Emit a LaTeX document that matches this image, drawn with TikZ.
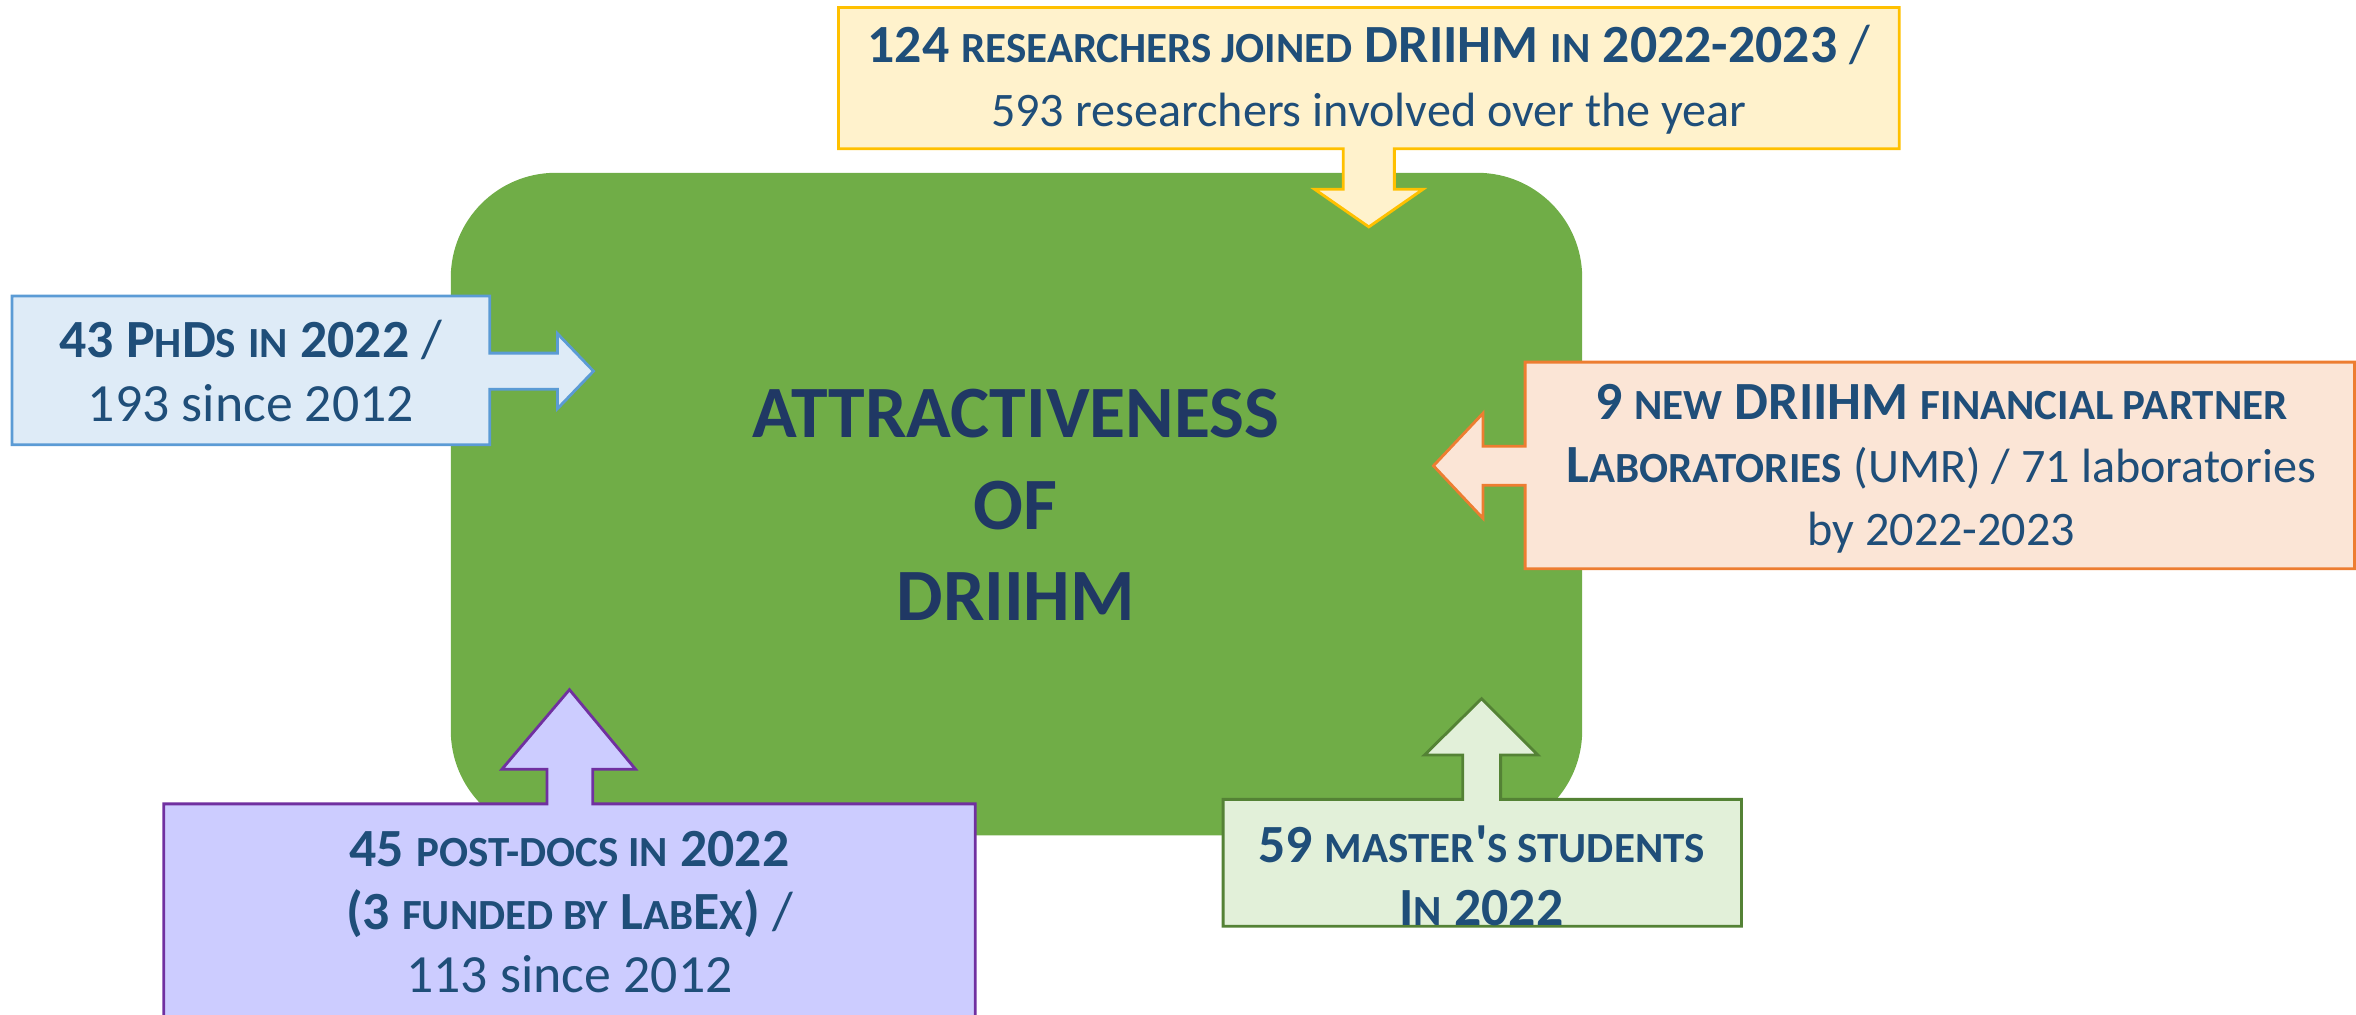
\documentclass[tikz,border=0pt]{standalone}
\usepackage{fontspec}
\setmainfont{Carlito}
\definecolor{txtblue}{HTML}{1F4E79}
\definecolor{coreblue}{HTML}{203864}
\definecolor{coregreen}{HTML}{70AD47}
\definecolor{phdfill}{HTML}{DEEBF7}
\definecolor{phddraw}{HTML}{5B9BD5}
\definecolor{resfill}{HTML}{FFF2CC}
\definecolor{resdraw}{HTML}{FFC000}
\definecolor{labfill}{HTML}{FBE5D6}
\definecolor{labdraw}{HTML}{ED7D31}
\definecolor{pdfill}{HTML}{CCCCFF}
\definecolor{pddraw}{HTML}{7030A0}
\definecolor{msfill}{HTML}{E2F0D9}
\definecolor{msdraw}{HTML}{548235}
\newlength\smclen
\makeatletter
\newcommand\smc[1]{{\smclen=\f@size pt\smclen=0.8\smclen\fontsize{\smclen}{\baselineskip}\selectfont\MakeUppercase{#1}}}
\makeatother
\newcommand\lite[1]{{\fontsize{13.7}{18}\selectfont #1}}
\begin{document}
\begin{tikzpicture}[x=0.015026cm, y=-0.015026cm,
    callout/.style={line width=0.8pt, line join=miter},
    info/.style={text=txtblue, align=center, inner sep=0pt, font=\fontsize{15.3}{18}\selectfont}]
    \clip (0,0) rectangle (1568,675);

    % Central block
    \fill[coregreen, rounded corners=1.05cm] (300,115) rectangle (1053,556);
    \node[text=coreblue, align=center, font=\fontsize{21}{26}\selectfont\bfseries] (core) at (676,336)
        {ATTRACTIVENESS\\OF\\DRIIHM};

    % PhDs (left)
    \filldraw[callout, fill=phdfill, draw=phddraw] (8,197) -- (326,197) -- (326,235) -- (371,235)
        -- (371,222) -- (395,247) -- (371,272) -- (371,259) -- (326,259) -- (326,296) -- (8,296) -- cycle;
    \node[info] (phd) at (167,247)
        {\textbf{43 P\smc{h}D\smc{s} \smc{in} 2022} /\\193 since 2012};

    % Researchers (top)
    \filldraw[callout, fill=resfill, draw=resdraw] (558,5) -- (1264,5) -- (1264,99) -- (928,99)
        -- (928,126) -- (947,126) -- (911,151) -- (875,126) -- (894,126) -- (894,99) -- (558,99) -- cycle;
    \node[info] (res) at (911,53)
        {\textbf{124 \smc{researchers joined} DRIIHM \smc{in} 2022-2023} /\\\lite{593 researchers involved over the year}};

    % Partner laboratories (right)
    \filldraw[callout, fill=labfill, draw=labdraw] (1015,241) -- (1567,241) -- (1567,378.5) -- (1015,378.5)
        -- (1015,323) -- (987,323) -- (987,345) -- (954,310) -- (987,275) -- (987,297) -- (1015,297) -- cycle;
    \node[info] (lab) at (1292,312)
        {\textbf{9 \smc{new} DRIIHM \smc{financial partner}}\\\textbf{L\smc{aboratories}} \lite{(UMR) / 71 laboratories}\\\lite{by 2022-2023}};

    % Post-docs (bottom left)
    \filldraw[callout, fill=pdfill, draw=pddraw] (109,690) -- (109,535) -- (364,535) -- (364,512)
        -- (334,512) -- (379,459) -- (423,512) -- (394.5,512) -- (394.5,535) -- (649,535) -- (649,690) -- cycle;
    \node[info] (pd) at (379,607)
        {\textbf{45 \smc{post-docs in} 2022}\\\textbf{(3 \smc{funded by} L\smc{ab}E\smc{x})} /\\113 since 2012};

    % Master's students (bottom right)
    \filldraw[callout, fill=msfill, draw=msdraw] (814,532) -- (973.5,532) -- (973.5,502.5) -- (948,502.5)
        -- (986,465) -- (1023.5,502.5) -- (998.7,502.5) -- (998.7,532) -- (1159,532) -- (1159,616.5)
        -- (814,616.5) -- cycle;
    \node[info] (ms) at (986,583)
        {\textbf{59 \smc{master}\textquotesingle\smc{s students}}\\\textbf{I\smc{n} 2022}};
\end{tikzpicture}
\end{document}
